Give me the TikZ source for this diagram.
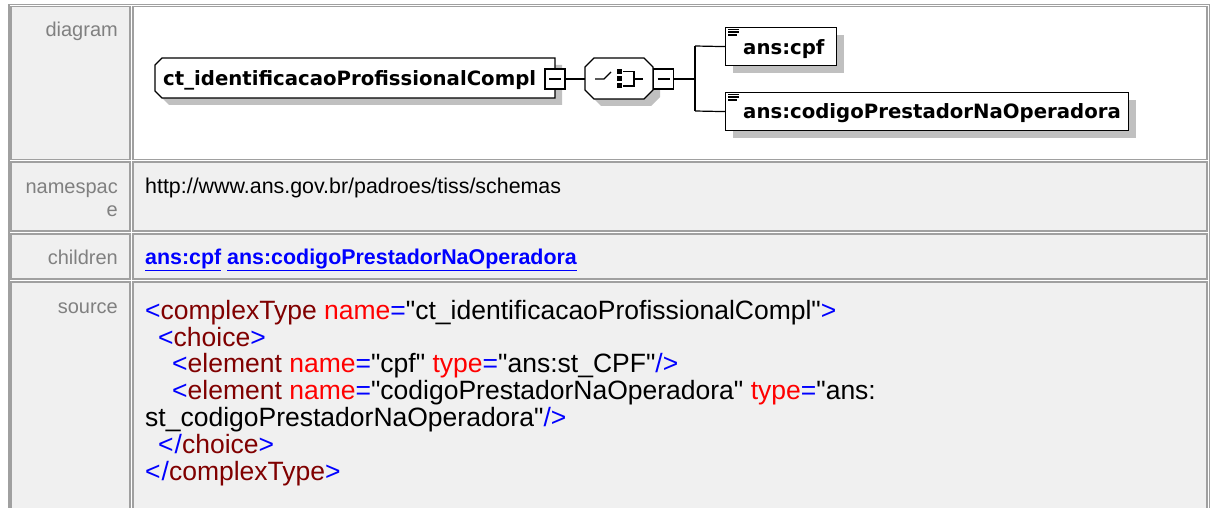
\documentclass[tikz,border=0pt]{standalone}
\usepackage{fontspec}
\newfontfamily\tblfont{Liberation Sans}[Ligatures=TeXOff]
\newfontfamily\dgfont{DejaVu Sans}[Ligatures=TeXOff]
\definecolor{cellbd}{HTML}{A0A0A0}
\definecolor{cellbg}{HTML}{F0F0F0}
\definecolor{lblgray}{HTML}{808080}
\definecolor{shadowgray}{HTML}{C0C0C0}
\definecolor{xmlblue}{HTML}{0000FF}
\definecolor{xmlmaroon}{HTML}{800000}
\definecolor{xmlred}{HTML}{FF0000}
\newcommand{\xbl}[1]{\textcolor{xmlblue}{#1}}
\newcommand{\xel}[1]{\textcolor{xmlmaroon}{#1}}
\newcommand{\xat}[1]{\textcolor{xmlred}{#1}}
\begin{document}
\begin{tikzpicture}[x=1pt,y=-1pt,
  cell/.style={draw=cellbd,line width=1.5pt},
  lbl/.style={anchor=base east,text=lblgray,font=\tblfont\fontsize{20}{23}\selectfont,inner sep=0pt},
  val/.style={anchor=base west,font=\tblfont\fontsize{21.4}{24}\selectfont,inner sep=0pt},
  src/.style={anchor=base west,font=\tblfont\fontsize{26.5}{27}\selectfont,inner sep=0pt},
  dgline/.style={draw=black,line width=1.2pt},
  dgshape/.style={draw=black,fill=white,line width=1.2pt},
  shadowfill/.style={fill=shadowgray,draw=none},
  dgtext/.style={anchor=base west,font=\dgfont\bfseries\fontsize{19.7}{22}\selectfont,inner sep=0pt},
  minusbox/.style={draw=black,fill=white,line width=1.2pt,minimum width=20pt,minimum height=20pt,inner sep=0pt,
    path picture={\draw[line width=1.2pt] ([xshift=4pt]path picture bounding box.west) -- ([xshift=-4pt]path picture bounding box.east);}},
  elembox/.style={draw=black,fill=white,line width=1.2pt,minimum height=38pt,inner sep=0pt,anchor=north west},
  elemicon/.style={line width=1.4pt}
]
\useasboundingbox (0,0) rectangle (1214,508);
\fill[white] (0,0) rectangle (1214,508);
% ---------- table ----------
\draw[cell] (8.75,4.75) rectangle (1209.25,520);
\draw[cell,fill=cellbg] (10.75,6.75) rectangle (130,159.25);
\draw[cell,fill=white]  (132.75,6.75) rectangle (1206.75,159.25);
\draw[cell,fill=cellbg] (10.75,161.75) rectangle (130,231);
\draw[cell,fill=cellbg] (132.75,161.75) rectangle (1206.75,231);
\draw[cell,fill=cellbg] (10.75,233.75) rectangle (130,279);
\draw[cell,fill=cellbg] (132.75,233.75) rectangle (1206.75,279);
\draw[cell,fill=cellbg] (10.75,281.75) rectangle (130,520);
\draw[cell,fill=cellbg] (132.75,281.75) rectangle (1206.75,520);
% ---------- labels ----------
\node[lbl] (ldiagram) at (118,36.5) {diagram};
\node[lbl] (lns1) at (118,193) {namespac};
\node[lbl] (lns2) at (118,216) {e};
\node[lbl] (lchildren) at (118,264) {children};
\node[lbl] (lsource) at (118,313) {source};
% ---------- values ----------
\node[val] (vns) at (145,193) {http://www.ans.gov.br/padroes/tiss/schemas};
\node[val,text=xmlblue,font=\tblfont\bfseries\fontsize{21.4}{24}\selectfont] (vchildren) at (145,264)
  {\underline{ans:cpf} \underline{ans:codigoPrestadorNaOperadora}};
\node[src] (s1) at (145,319) {\xbl{<}\xel{complexType} \xat{name}\xbl{=}"ct\_identificacaoProfissionalCompl"\xbl{>}};
\node[src] (s2) at (158,346) {\xbl{<}\xel{choice}\xbl{>}};
\node[src] (s3) at (172,372) {\xbl{<}\xel{element} \xat{name}\xbl{=}"cpf" \xat{type}\xbl{=}"ans:st\_CPF"\xbl{/>}};
\node[src] (s4) at (172,399) {\xbl{<}\xel{element} \xat{name}\xbl{=}"codigoPrestadorNaOperadora" \xat{type}\xbl{=}"ans:};
\node[src] (s5) at (145,426) {st\_codigoPrestadorNaOperadora"\xbl{/>}};
\node[src] (s6) at (158,453) {\xbl{<\kern1pt/}\xel{choice}\xbl{>}};
\node[src] (s7) at (145,480) {\xbl{<\kern1pt/}\xel{complexType}\xbl{>}};
% ---------- diagram: shadows ----------
\fill[shadowgray] (169,65) -- (562,65) -- (562,105) -- (169,105) -- (162,98) -- (162,72) -- cycle;
\fill[shadowgray] (601,65) -- (651,65) -- (660,74) -- (660,97) -- (651,106) -- (601,106) -- (592,97) -- (592,74) -- cycle;
\fill[shadowgray] (733,35) rectangle (844,73);
\fill[shadowgray] (733,100) rectangle (1136,138);
% ---------- diagram: main complex type ----------
\draw[dgshape] (162,58) -- (555,58) -- (555,98) -- (162,98) -- (155,91) -- (155,65) -- cycle;
\node[dgtext] (main) at (163,86) {ct\_identificacaoProfissionalCompl};
\node[minusbox] (mb1) at (555,79) {};
% ---------- choice ----------
\draw[dgshape] (594,58) -- (644,58) -- (653,67) -- (653,90) -- (644,99) -- (594,99) -- (585,90) -- (585,67) -- cycle;
\coordinate (choicein) at (585,79);
\coordinate (choiceout) at (653,79);
\draw[dgline] (595,79) -- (604,79) -- (611,72);
\fill (616.5,69.5) rectangle (621.5,74);
\fill (616.5,76.5) rectangle (621.5,81);
\fill (616.5,83.5) rectangle (621.5,88);
\draw[dgline] (623,71.5) -- (634,71.5) -- (634,86) -- (623,86);
\draw[dgline] (634,79) -- (643,79);
\node[minusbox,anchor=west] (mb2) at (choiceout) {};
\draw[dgline] (mb1.east) -- (choicein);
% ---------- junction ----------
\coordinate (junc) at (695,79);
\coordinate (jtop) at (695,46);
\coordinate (jbot) at (695,111);
\draw[dgline] (mb2.east) -- (junc);
\draw[dgline] (jtop) -- (jbot);
% ---------- elements ----------
\node[elembox,minimum width=111pt] (cpfbox) at (725,27) {};
\node[elembox,minimum width=403pt] (codbox) at (725,92) {};
\draw[dgline] (jtop) -- (cpfbox.west);
\draw[dgline] (jbot) -- (codbox.west);
\draw[elemicon] (728,29.5) -- (739,29.5) (728,32.2) -- (739,32.2) (728,34.9) -- (737,34.9);
\draw[elemicon] (728,94.5) -- (739,94.5) (728,97.2) -- (739,97.2) (728,99.9) -- (737,99.9);
\node[dgtext] (cpftext) at (743,55) {ans:cpf};
\node[dgtext] (codtext) at (743,118) {ans:codigoPrestadorNaOperadora};
\end{tikzpicture}
\end{document}
